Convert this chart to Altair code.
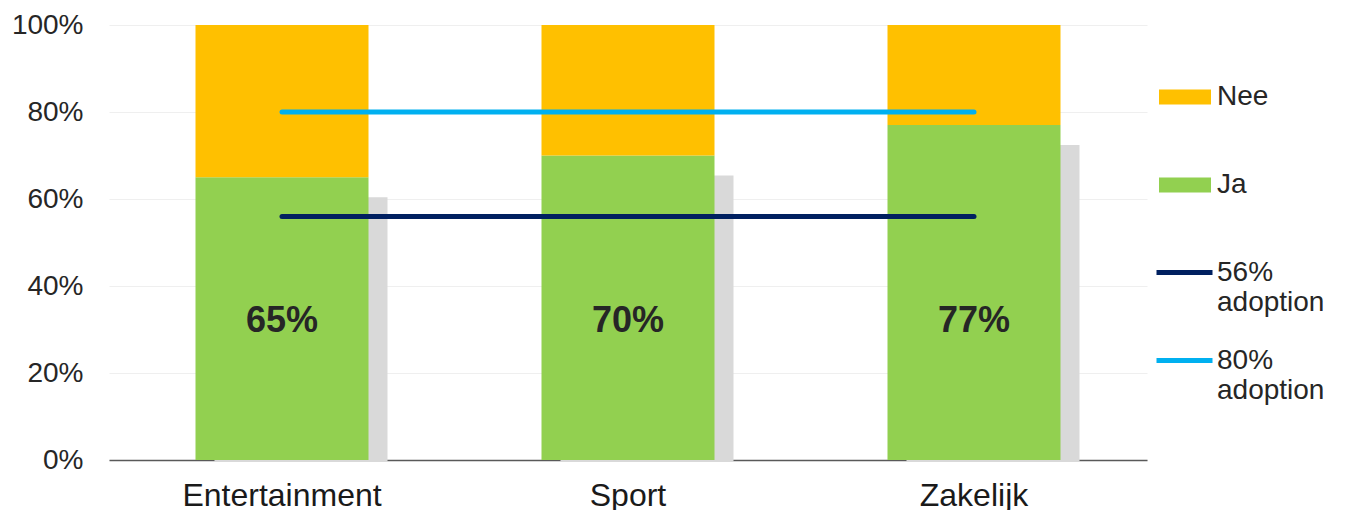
import altair as alt
import pandas as pd

categories = ["Entertainment", "Sport", "Zakelijk"]
ja_values = [65, 70, 77]
nee_values = [35, 30, 23]
threshold_names = ["56% adoption", "80% adoption"]
threshold_values = [56, 80]

FONT = "Liberation Sans"
GREEN = "#92d050"
ORANGE = "#ffc000"
NAVY = "#002060"
LIGHTBLUE = "#00b0f0"

rows = []
for c, j, n in zip(categories, ja_values, nee_values):
    rows.append({"cat": c, "answer": "Ja", "value": j, "order": 0})
    rows.append({"cat": c, "answer": "Nee", "value": n, "order": 1})
stack_df = pd.DataFrame(rows)
ja_df = pd.DataFrame({"cat": categories, "ja": ja_values,
                      "label": [f"{v}%" for v in ja_values]})
thr_df = pd.DataFrame({"name": threshold_names, "value": threshold_values,
                       "start": categories[0], "end": categories[-1]})

xscale = alt.Scale(domain=categories, paddingInner=0.5, paddingOuter=0.25)
yscale = alt.Scale(domain=[0, 100], nice=False)

x_enc = alt.X("cat:N", scale=xscale, sort=categories, title=None,
              axis=alt.Axis(labelAngle=0, labelFont=FONT, labelFontSize=32,
                            labelLimit=500,
                            labelColor="#1a1a1a", labelPadding=20, ticks=False,
                            domainColor="#595959", domainWidth=1.5))

shadow = alt.Chart(ja_df).mark_bar(color="#d9d9d9", xOffset=19, yOffset=20,
                                   y2Offset=2).encode(
    x=x_enc,
    y=alt.Y("ja:Q", scale=yscale, title=None,
            axis=alt.Axis(values=[0, 20, 40, 60, 80, 100],
                          labelExpr="datum.value + '%'", labelFont=FONT,
                          labelFontSize=28, labelColor="#262626",
                          labelPadding=26, ticks=False, domain=False,
                          gridColor="#efefef", gridWidth=1.2)),
    y2=alt.datum(0),
)

bars = alt.Chart(stack_df).mark_bar().encode(
    x=alt.X("cat:N", scale=xscale, sort=categories),
    y=alt.Y("value:Q", stack="zero", scale=yscale),
    fill=alt.Fill("answer:N",
                  scale=alt.Scale(domain=["Nee", "Ja"], range=[ORANGE, GREEN]),
                  legend=alt.Legend(title=None, orient="none", legendX=1050,
                                    legendY=46, rowPadding=48, padding=0,
                                    symbolType="M-1,-0.29H1V0.29H-1Z",
                                    symbolSize=2704, symbolStrokeWidth=0,
                                    labelFont=FONT, labelFontSize=28,
                                    labelColor="#262626", labelOffset=6)),
    order=alt.Order("order:Q"),
)

texts = alt.Chart(ja_df).mark_text(font=FONT, fontSize=36, fontWeight="bold",
                                   color="#262626").encode(
    x=alt.X("cat:N", scale=xscale, sort=categories),
    y=alt.datum(32),
    text="label:N",
)

rules = alt.Chart(thr_df).mark_rule(strokeWidth=5, strokeCap="round").encode(
    x=alt.X("start:N", scale=xscale, sort=categories),
    x2="end:N",
    y=alt.Y("value:Q", scale=yscale),
    stroke=alt.Stroke("name:N",
                      scale=alt.Scale(domain=threshold_names, range=[NAVY, LIGHTBLUE]),
                      legend=alt.Legend(title=None, orient="none", legendX=1045,
                                        legendY=217, rowPadding=13, padding=0,
                                        symbolType="stroke", symbolSize=3136,
                                        symbolStrokeWidth=5,
                                        labelExpr="split(datum.label, ' ')",
                                        labelFont=FONT, labelFontSize=28,
                                        labelColor="#262626", labelOffset=2)),
)

chart = alt.layer(shadow, bars, texts, rules).resolve_scale(
    fill="independent", stroke="independent"
).properties(
    width=1038, height=435,
    background="white",
    autosize=alt.AutoSizeParams(type="none"),
    padding={"left": 109, "top": 25, "right": 199, "bottom": 50},
).configure_view(stroke=None)

chart.save("out.html", embed_options={"renderer": "svg", "actions": False})
